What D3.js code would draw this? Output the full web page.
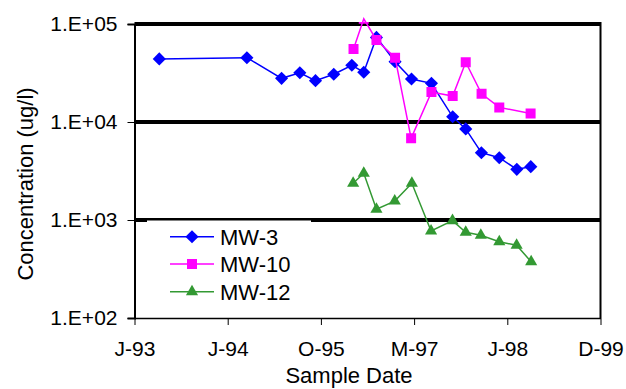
<!DOCTYPE html>
<html>
<head>
<meta charset="utf-8">
<script src="https://cdn.jsdelivr.net/npm/d3@7"></script>
<style>
  body { margin: 0; background: #fff; }
  svg { display: block; font-family: "Liberation Sans", Arial, sans-serif; }
</style>
</head>
<body>
<svg width="626" height="389"></svg>
<script>
// sample dates and concentrations (ug/l)
var mw3Dates = ["1993-06-12","1994-09-25","1995-03-30","1995-07-06","1995-09-28","1996-01-04",
                "1996-04-10","1996-06-13","1996-08-20","1996-11-28","1997-02-24","1997-06-11",
                "1997-10-03","1997-12-12","1998-03-06","1998-06-10","1998-09-12","1998-11-26"];
var mw3Values = [44000, 45300, 27900, 31800, 26400, 30700,
                 37900, 32200, 73000, 41200, 27500, 24800,
                 11300, 8500, 4860, 4320, 3290, 3500];

var mw10Dates = ["1996-04-19","1996-06-13","1996-08-20","1996-11-28","1997-02-22","1997-06-11",
                 "1997-10-03","1997-12-12","1998-03-07","1998-06-10","1998-11-25"];
var mw10Values = [55600, 113000, 68700, 45300, 6820, 20200,
                  18400, 40700, 19400, 14100, 12200];

var mw12Dates = ["1996-04-17","1996-06-13","1996-08-20","1996-11-26","1997-02-26","1997-06-09",
                 "1997-10-02","1997-12-12","1998-03-03","1998-06-10","1998-09-11","1998-11-28"];
var mw12Values = [2370, 3000, 1290, 1560, 2370, 773,
                  985, 749, 698, 601, 552, 375];

var seriesNames = ["MW-3", "MW-10", "MW-12"];
var seriesColors = ["#0000ff", "#ff00ff", "#339933"];

var xTickDates = ["1993-01-30","1994-06-14","1995-10-27","1997-03-10","1998-07-23","1999-12-05"];
var xTickLabels = ["J-93","J-94","O-95","M-97","J-98","D-99"];
var yTickValues = [100, 1000, 10000, 100000];
var yTickLabels = ["1.E+02","1.E+03","1.E+04","1.E+05"];

function makeChart() {
    var parse = d3.timeParse("%Y-%m-%d");
    var svg = d3.select("svg");

    var pxL = 134.5, pxR = 600.5, pxT = 24, pxB = 318;

    var scX = d3.scaleTime()
        .domain([parse(xTickDates[0]), parse(xTickDates[xTickDates.length - 1])])
        .range([pxL, pxR]);
    var scY = d3.scaleLog().domain([100, 100000]).range([pxB, pxT]);

    var shapes = [d3.symbolDiamond2, d3.symbolSquare, d3.symbolTriangle];
    var sizes = [110, 100, 64];

    var series = [
        { dates: mw3Dates, values: mw3Values },
        { dates: mw10Dates, values: mw10Values },
        { dates: mw12Dates, values: mw12Values }
    ].map(function(s, i) {
        return {
            name: seriesNames[i], color: seriesColors[i],
            marker: d3.symbol().type(shapes[i]).size(sizes[i]),
            points: s.dates.map(function(d, j) { return { date: parse(d), value: s.values[j] }; })
        };
    });

    svg.append("defs").append("clipPath").attr("id", "plotclip")
        .append("rect").attr("x", pxL).attr("y", pxT - 2)
        .attr("width", pxR - pxL).attr("height", pxB - pxT + 2);

    // heavy gridlines
    svg.append("g").selectAll("line")
        .data([1000, 10000, 100000]).enter().append("line")
        .attr("x1", pxL).attr("x2", pxR)
        .attr("y1", d => scY(d)).attr("y2", d => scY(d))
        .attr("stroke", "#000").attr("stroke-width", 4);

    // right border
    svg.append("line")
        .attr("x1", pxR).attr("x2", pxR).attr("y1", pxT - 2).attr("y2", pxB)
        .attr("stroke", "#000").attr("stroke-width", 2);

    // y axis
    var yAxis = svg.append("g").attr("transform", "translate(" + pxL + ",0)")
        .call(d3.axisLeft(scY).tickValues(yTickValues)
            .tickFormat((d, i) => yTickLabels[i]).tickSize(7).tickPadding(10));
    yAxis.select(".domain").attr("stroke-width", 2);
    yAxis.selectAll("text").attr("font-size", 21).attr("fill", "#000");
    yAxis.attr("font-family", null);

    // x axis
    var xAxis = svg.append("g").attr("transform", "translate(0," + pxB + ")")
        .call(d3.axisBottom(scX).tickValues(xTickDates.map(parse))
            .tickFormat((d, i) => xTickLabels[i]).tickSize(7).tickSizeOuter(0).tickPadding(16));
    xAxis.select(".domain").attr("stroke-width", 1.5);
    xAxis.selectAll("text").attr("font-size", 21).attr("fill", "#000");
    xAxis.attr("font-family", null);

    // axis titles
    svg.append("text").attr("x", 349).attr("y", 383)
        .attr("text-anchor", "middle").attr("font-size", 22).text("Sample Date");
    svg.append("text").attr("transform", "translate(33,184) rotate(-90)")
        .attr("text-anchor", "middle").attr("font-size", 22).text("Concentration (ug/l)");

    // series: line then markers (markers clipped to the plot area)
    var lineMaker = d3.line().x(d => scX(d.date)).y(d => scY(d.value));
    series.forEach(function(s) {
        var g = svg.append("g");
        g.append("path").attr("fill", "none").attr("stroke", s.color)
            .attr("stroke-width", 1.5).attr("d", lineMaker(s.points));
        g.append("g").attr("clip-path", "url(#plotclip)")
            .selectAll("path").data(s.points).enter().append("path")
            .attr("transform", d => "translate(" + scX(d.date) + "," + scY(d.value) + ")")
            .attr("d", s.marker).attr("fill", s.color);
    });

    // legend
    var legend = svg.append("g");
    legend.append("rect").attr("x", 147).attr("y", 220.5).attr("width", 164).attr("height", 85)
        .attr("fill", "#fff");
    var rowY = [236.7, 264, 291.7];
    series.forEach(function(s, i) {
        var row = legend.append("g").attr("transform", "translate(0," + rowY[i] + ")");
        row.append("line").attr("x1", 170).attr("x2", 214).attr("stroke", s.color).attr("stroke-width", 1.5);
        row.append("path").attr("transform", "translate(192,0)").attr("d", s.marker).attr("fill", s.color);
        row.append("text").attr("x", 220).attr("y", 0).attr("dy", "0.36em")
            .attr("font-size", 22).text(s.name);
    });
}
makeChart();
</script>
</body>
</html>
